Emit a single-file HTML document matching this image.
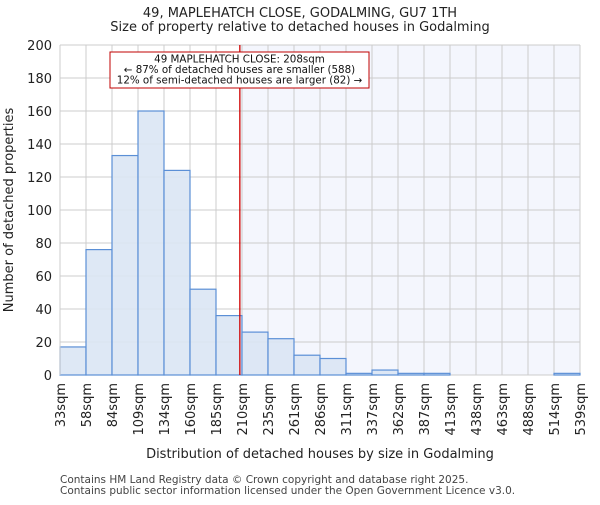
<!DOCTYPE html>
<html><head><meta charset="utf-8"><style>body{margin:0;background:#fff}svg{font-family:"DejaVu Sans","Liberation Sans",sans-serif}</style></head>
<body>
<svg id="c" width="600" height="500"></svg>
<script>
const labels=["33sqm","58sqm","84sqm","109sqm","134sqm","160sqm","185sqm","210sqm","235sqm","261sqm","286sqm","311sqm","337sqm","362sqm","387sqm","413sqm","438sqm","463sqm","488sqm","514sqm","539sqm"];
const counts=[17,76,133,160,124,52,36,26,22,12,10,1,3,1,1,0,0,0,0,1];
const yTicks=[0,20,40,60,80,100,120,140,160,180,200];
const marker=208, xMin=33, xMax=539;
const L=60,R=580,T=45,B=375,ns="http://www.w3.org/2000/svg";
const svg=document.getElementById('c');
const y=v=>B-(v/200)*(B-T);
const bw=(R-L)/counts.length;
const xb=i=>L+i*bw;
const xv=v=>L+(v-xMin)/(xMax-xMin)*(R-L);
function mk(t,a,p){const e=document.createElementNS(ns,t);for(const k in a)e.setAttribute(k,a[k]);(p||svg).appendChild(e);return e;}
let e;
e=mk('rect',{x:xv(marker),y:T,width:R-xv(marker),height:B-T,fill:'#f4f6fd'});


yTicks.forEach(v=>{e=mk('line',{x1:L,x2:R,y1:y(v),y2:y(v),stroke:'#cccccc'});


e=mk('text',{x:L-8,y:y(v)+5,'text-anchor':'end','font-size':13,fill:'#222'});e.textContent=v;

});
labels.forEach((l,i)=>{e=mk('line',{x1:xb(i),x2:xb(i),y1:T,y2:B,stroke:'#cccccc'});


e=mk('text',{x:0,y:0,'text-anchor':'end','font-size':13,fill:'#222',transform:`translate(${xb(i)+5},${B+8}) rotate(-90)`});e.textContent=l;

});
counts.forEach((c,i)=>{e=mk('rect',{x:xb(i),y:y(c),width:bw,height:B-y(c),fill:'#dae5f4','fill-opacity':0.9,stroke:'#5b8fd6','stroke-width':1.2});

});
e=mk('line',{x1:xv(marker),x2:xv(marker),y1:T,y2:B,stroke:'#d00000','stroke-width':1.3});


e=mk('rect',{x:110,y:52,width:259,height:36,fill:'#fff',stroke:'#c00000'});


["49 MAPLEHATCH CLOSE: 208sqm","← 87% of detached houses are smaller (588)","12% of semi-detached houses are larger (82) →"].forEach((t,i)=>{e=mk('text',{x:239.5,y:62.5+i*10.5,'text-anchor':'middle','font-size':10.3,fill:'#111'});e.textContent=t;

});
e=mk('line',{x1:L,x2:L,y1:T,y2:B,stroke:'#ccc'});


[["49, MAPLEHATCH CLOSE, GODALMING, GU7 1TH",17,'chart-title'],["Size of property relative to detached houses in Godalming",31,'chart-subtitle']].forEach(([t,yy,n])=>{e=mk('text',{x:300,y:yy,'text-anchor':'middle','font-size':13,fill:'#222'});e.textContent=t;

});
e=mk('text',{x:320,y:458,'text-anchor':'middle','font-size':13,fill:'#222'});e.textContent="Distribution of detached houses by size in Godalming";


e=mk('text',{x:0,y:0,'text-anchor':'middle','font-size':13,fill:'#222',transform:'translate(13,210) rotate(-90)'});e.textContent="Number of detached properties";


["Contains HM Land Registry data © Crown copyright and database right 2025.","Contains public sector information licensed under the Open Government Licence v3.0."].forEach((t,i)=>{e=mk('text',{x:60,y:483+i*11,'font-size':10.5,fill:'#444'});e.textContent=t;

});
</script>
</body></html>
